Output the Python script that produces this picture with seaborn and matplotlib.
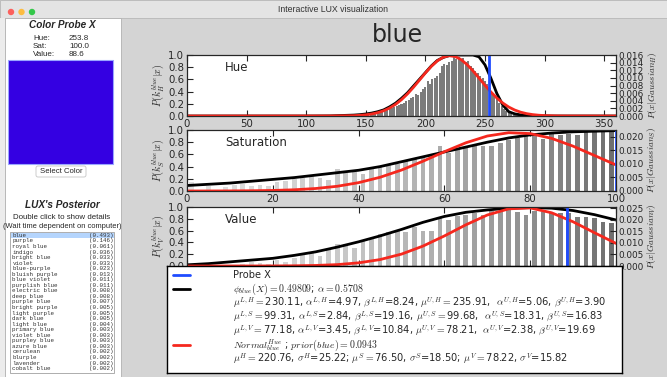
import numpy as np
import pandas as pd
import seaborn as sns
import matplotlib.pyplot as plt
from matplotlib.patches import Rectangle, FancyBboxPatch, Circle

# ---------------- values ----------------
probe_labels = ["Hue:", "Sat:", "Value:"]
probe_values = [253.8, 100.0, 88.6]
probe_rgb = "#3400e2"

color_names = ["blue", "purple", "royal blue", "indigo", "bright blue", "violet",
               "blue-purple", "bluish purple", "blue violet", "purplish blue",
               "electric blue", "deep blue", "purple blue", "bright purple",
               "light purple", "dark blue", "light blue", "primary blue",
               "violet blue", "purpley blue", "azure blue", "cerulean", "blurple",
               "lavender", "cobalt blue"]
color_probs = [0.493, 0.146, 0.061, 0.036, 0.033, 0.033, 0.023, 0.013, 0.011, 0.011,
               0.008, 0.008, 0.007, 0.005, 0.005, 0.005, 0.004, 0.003, 0.003, 0.003,
               0.003, 0.002, 0.002, 0.002, 0.002]

# hue histogram (bin centres every 2 degrees)
hue_bins = list(range(146, 280, 2))
hue_hist = [0.01, 0.01, 0.02, 0.02, 0.03, 0.03, 0.04, 0.05, 0.06, 0.07,
            0.08, 0.10, 0.11, 0.13, 0.14, 0.16, 0.18, 0.19, 0.22, 0.24,
            0.27, 0.30, 0.31, 0.36, 0.34, 0.40, 0.44, 0.47, 0.57, 0.52,
            0.60, 0.63, 0.66, 0.70, 0.82, 0.86, 0.84, 0.88, 0.90, 0.96,
            0.93, 0.97, 0.92, 0.95, 0.88, 0.90, 0.82, 0.78, 0.74, 0.70,
            0.66, 0.62, 0.57, 0.52, 0.46, 0.40, 0.34, 0.28, 0.22, 0.16,
            0.12, 0.08, 0.05, 0.03, 0.02, 0.01, 0.01]
hue_x = [0, 100, 120] + list(range(140, 305, 5)) + [310, 320, 360]
hue_lux = [0, 0, 0.002,
           0.015, 0.022, 0.033, 0.048, 0.07, 0.10, 0.15, 0.21, 0.29, 0.38,
           0.49, 0.60, 0.71, 0.82, 0.91, 0.96, 0.99, 1.0, 1.0, 1.0, 1.0, 0.97,
           0.84, 0.62, 0.37, 0.18, 0.07, 0.035, 0.018, 0.009, 0.004, 0.002, 0.001,
           0, 0, 0]
hue_norm = [0, 0.00001, 0.00002,
            0.00009, 0.00017, 0.00031, 0.00053, 0.00087, 0.00137, 0.00209,
            0.00305, 0.00429, 0.00579, 0.00752, 0.00939, 0.01128, 0.01301,
            0.01444, 0.01541, 0.01581, 0.01560, 0.01479, 0.01349, 0.01183,
            0.00997, 0.00808, 0.00630, 0.00472, 0.00340, 0.00235, 0.00157,
            0.00100, 0.00062, 0.00037, 0.00021, 0.00011,
            0.00003, 0.00001, 0]

# saturation / value histograms (bin centres every 2 units)
sv_bins = list(range(1, 100, 2))
sat_hist = [0.14, 0.00, 0.08, 0.00, 0.07, 0.10, 0.12, 0.09, 0.10, 0.09,
            0.15, 0.17, 0.20, 0.22, 0.24, 0.22, 0.18, 0.36, 0.30, 0.31,
            0.28, 0.37, 0.39, 0.42, 0.45, 0.50, 0.53, 0.58, 0.61, 0.73,
            0.63, 0.69, 0.72, 0.73, 0.73, 0.73, 0.78, 0.83, 0.87, 0.91,
            0.94, 0.85, 0.94, 0.91, 0.94, 0.92, 0.97, 0.99, 0.99, 0.98]
val_hist = [0, 0, 0, 0, 0, 0.02, 0.04, 0.07, 0.05, 0.03,
            0.11, 0.07, 0.14, 0.21, 0.23, 0.17, 0.27, 0.37, 0.38, 0.31,
            0.44, 0.46, 0.54, 0.57, 0.59, 0.57, 0.66, 0.60, 0.59, 0.83,
            0.78, 0.84, 0.86, 0.90, 0.86, 0.94, 0.91, 0.97, 0.91, 0.86,
            0.93, 0.91, 0.89, 0.90, 0.89, 0.83, 0.83, 0.82, 0.74, 0.73]
sv_x = list(range(0, 105, 5))
sat_lux = [0.09, 0.11, 0.13, 0.16, 0.19, 0.22, 0.26, 0.30, 0.34, 0.40, 0.48,
           0.56, 0.64, 0.72, 0.80, 0.87, 0.92, 0.95, 0.97, 0.98, 0.99]
sat_norm = [0.0, 0.00001, 0.00003, 0.00009, 0.0002, 0.00045, 0.00092, 0.00174,
            0.00308, 0.00506, 0.00773, 0.01098, 0.01449, 0.01778, 0.02028,
            0.02150, 0.02118, 0.01941, 0.01653, 0.01308, 0.00962]
val_lux = [0.02, 0.04, 0.07, 0.10, 0.13, 0.18, 0.24, 0.32, 0.41, 0.51, 0.62,
           0.74, 0.84, 0.91, 0.95, 0.98, 0.99, 0.98, 0.94, 0.87, 0.78]
val_norm = [0, 0, 0.00001, 0.00001, 0.00003, 0.00009, 0.00024, 0.0006, 0.00136,
            0.00278, 0.00514, 0.0086, 0.0130, 0.01779, 0.02204, 0.0247, 0.0251,
            0.0230, 0.0191, 0.01437, 0.00977]

legend_lines = [
    "Probe X",
    r"$\phi_{blue}(X)=0.49809$; $\alpha=0.5708$",
    r"$\mu^{L,H}=$230.11, $\alpha^{L,H}$=4.97, $\beta^{L,H}$=8.24, $\mu^{U,H}=$235.91,  $\alpha^{U,H}$=5.06, $\beta^{U,H}$=3.90",
    r"$\mu^{L,S}=$99.31, $\alpha^{L,S}$=2.84, $\beta^{L,S}$=19.16, $\mu^{U,S}=$99.68,  $\alpha^{U,S}$=18.31, $\beta^{U,S}$=16.83",
    r"$\mu^{L,V}=$77.18, $\alpha^{L,V}$=3.45, $\beta^{L,V}$=10.84, $\mu^{U,V}=$78.21,  $\alpha^{U,V}$=2.38, $\beta^{U,V}$=19.69",
    r"$Normal^{Hue}_{blue}$ ; $prior(blue)=0.0943$",
    r"$\mu^{H}=$220.76, $\sigma^{H}$=25.22; $\mu^{S}=$76.50, $\sigma^{S}$=18.50; $\mu^{V}=$78.22, $\sigma^{V}$=15.82",
]

# ---------------- figure ----------------
sns.set_style("ticks")
plt.rcParams["font.family"] = ["DejaVu Sans"]
plt.rcParams["mathtext.fontset"] = "cm"

W, H = 667, 377
RED = "#f5281e"
BLUE = "#1f4cff"
GUI = "Liberation Sans"


def rect(x0, y0, x1, y1):
    return [x0 / W, 1 - y1 / H, (x1 - x0) / W, (y1 - y0) / H]


fig = plt.figure(figsize=(W / 100, H / 100), dpi=100)
fig.patch.set_facecolor("#d4d4d4")

# window chrome and the left control panel, in pixel coords
bg = fig.add_axes([0, 0, 1, 1])
bg.set_xlim(0, W)
bg.set_ylim(H, 0)
bg.axis("off")
bg.add_patch(Rectangle((0, 0), W, 18, fc="#e4e4e4", ec="#b8b8b8", lw=0.6))
bg.text(W / 2, 9, "Interactive LUX visualization", ha="center", va="center",
        fontsize=6.3, family=GUI, color="#333333")
for cx, c in zip([11, 21.5, 32], ["#fc605c", "#fdbc40", "#34c84a"]):
    bg.add_patch(Circle((cx, 12), 3.2, fc=c, ec="none"))
bg.add_patch(Rectangle((0, 18), 5, H - 18, fc="#ececec", ec="none"))
bg.add_patch(Rectangle((5, 18), 116, H - 18, fc="white", ec="#b0b0b0", lw=0.6))

bg.text(62, 25, "Color Probe X", ha="center", va="center", fontsize=7.2,
        family=GUI, weight="bold", style="italic")
for i, (lab, v) in enumerate(zip(probe_labels, probe_values)):
    bg.text(33, 38 + i * 8.5, lab, va="center", fontsize=5.8, family=GUI)
    bg.text(69, 38 + i * 8.5, f"{v:.1f}", va="center", fontsize=5.8, family=GUI)
bg.add_patch(Rectangle((8, 60), 105, 104, fc=probe_rgb, ec="#9aa6ff", lw=0.8))
bg.add_patch(FancyBboxPatch((36, 166), 50, 11, boxstyle="round,pad=0,rounding_size=2",
                            fc="white", ec="#c4c4c4", lw=0.6))
bg.text(61, 171.5, "Select Color", ha="center", va="center", fontsize=5.6, family=GUI)

bg.text(62, 205, "LUX's Posterior", ha="center", va="center", fontsize=7.2,
        family=GUI, weight="bold", style="italic")
bg.text(62, 217.5, "Double click to show details", ha="center", va="center",
        fontsize=5.7, family=GUI)
bg.text(62, 226.5, "(Wait time dependent on computer)", ha="center", va="center",
        fontsize=5.4, family=GUI)
bg.add_patch(Rectangle((10, 232), 104, 141, fc="white", ec="#a0a0a0", lw=0.6))
bg.add_patch(Rectangle((10.5, 232.6), 103, 5.6, fc="#b5d5fd", ec="none"))
for i, (nm, p) in enumerate(zip(color_names, color_probs)):
    y = 235.4 + i * 5.55
    bg.text(12.5, y, nm, va="center", fontsize=4.2, family="Liberation Mono",
            color="#333333")
    bg.text(89, y, f"({p:.3f})", va="center", fontsize=4.2, family="Liberation Mono",
            color="#333333")

bg.text(397, 35, "blue", ha="center", va="center", fontsize=17)


def gray_steps(xs, xmax):
    return [str(0.88 - 0.45 * (x / xmax) ** 1.5) for x in xs]


def panel(box, name, sub, bins, hist, width, colors, cx, lux, norm,
          xmax, xticks, rmax, rticks, probe, xlabels=True):
    ax = fig.add_axes(rect(*box))
    ax.set_facecolor("white")
    ax.bar(bins, hist, width=width, color=colors, linewidth=0)
    sns.lineplot(x=cx, y=lux, ax=ax, color="black", lw=2, estimator=None, sort=False)
    ax.set_xlim(0, xmax)
    ax.set_ylim(0, 1.0)
    ax.set_xticks(xticks)
    ax.set_yticks(np.arange(0, 1.01, 0.2))
    ax.set_yticklabels([f"{t:.1f}" for t in np.arange(0, 1.01, 0.2)])
    ax.tick_params(direction="in", top=True, labelsize=7.3, length=4, pad=2,
                   labelbottom=xlabels)
    ax.set_ylabel(r"$P(k_%s^{blue}|x)$" % sub, fontsize=7.2, labelpad=1)
    ax.text(0.089, 0.79, name, transform=ax.transAxes, fontsize=8.5, va="center")
    for s in ax.spines.values():
        s.set_color("black")
        s.set_linewidth(0.8)

    ax2 = ax.twinx()
    sns.lineplot(x=cx, y=norm, ax=ax2, color=RED, lw=2, estimator=None, sort=False)
    ax2.axvline(probe, color=BLUE, lw=2)
    ax2.set_xlim(0, xmax)
    ax2.set_ylim(0, rmax)
    ax2.set_yticks(rticks)
    ax2.set_yticklabels([f"{t:.3f}" for t in rticks])
    ax2.tick_params(direction="in", labelsize=6.4, length=4, pad=2)
    ax2.set_ylabel(r"$P(x|Gaussian_%s)$" % sub, fontsize=6.6, labelpad=1)
    return ax


panel((187, 55, 616, 116), "Hue", "H", hue_bins, hue_hist, 1.7, "#7b7b7b",
      hue_x, hue_lux, hue_norm, 360, range(0, 360, 50),
      0.016, np.arange(0, 0.0161, 0.002), probe_values[0])
panel((187, 130, 616, 191), "Saturation", "S", sv_bins, sat_hist, 1.1,
      gray_steps(sv_bins, 100), sv_x, sat_lux, sat_norm, 100, range(0, 101, 20),
      0.0225, np.arange(0, 0.0201, 0.005), probe_values[1])
panel((187, 207, 616, 266), "Value", "V", sv_bins, val_hist, 1.1,
      gray_steps(sv_bins, 100), sv_x, val_lux, val_norm, 100, range(0, 101, 20),
      0.0255, np.arange(0, 0.0251, 0.005), probe_values[2], xlabels=False)

# legend box drawn on top of the value panel
lg = fig.add_axes(rect(167, 266, 622, 373))
lg.set_xlim(167, 622)
lg.set_ylim(373, 266)
lg.set_xticks([])
lg.set_yticks([])
lg.set_facecolor("white")
for s in lg.spines.values():
    s.set_color("black")
    s.set_linewidth(1)
line_y = [275, 289, 303, 317, 331, 345, 359]
for yy, c in [(line_y[0], BLUE), (line_y[1], "black"), (line_y[5], RED)]:
    lg.plot([173, 190], [yy, yy], color=c, lw=2)
for yy, txt in zip(line_y, legend_lines):
    lg.text(233, yy, txt, va="center", fontsize=7.1)

fig.savefig("out.png", dpi=100, facecolor=fig.get_facecolor())
